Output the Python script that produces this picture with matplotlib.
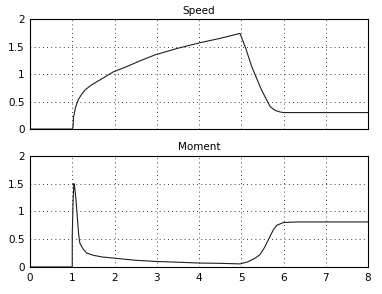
import numpy as np
import matplotlib
matplotlib.use("Agg")
import matplotlib.pyplot as plt

# values
speed_t = [0.0, 1.0, 1.02, 1.03, 1.08, 1.14, 1.22, 1.30, 1.45, 1.58, 1.80, 1.97,
           2.30, 2.60, 2.96, 3.50, 4.02, 4.50, 4.97, 5.10, 5.25, 5.48, 5.60,
           5.68, 5.80, 5.92, 6.00, 8.0]
speed_v = [0.0, 0.0, 0.05, 0.22, 0.40, 0.53, 0.63, 0.71, 0.80, 0.86, 0.96, 1.04,
           1.14, 1.24, 1.35, 1.47, 1.57, 1.65, 1.74, 1.48, 1.13, 0.71, 0.53,
           0.41, 0.34, 0.31, 0.30, 0.30]

moment_t = [0.0, 1.0, 1.0, 1.02, 1.04, 1.06, 1.09, 1.12, 1.15, 1.18, 1.25, 1.34,
            1.50, 1.70, 1.97, 2.50, 2.96, 3.50, 4.02, 4.50, 4.97, 5.15, 5.33,
            5.44, 5.55, 5.68, 5.76, 5.84, 6.00, 6.35, 8.0]
moment_v = [0.0, 0.0, 0.55, 1.20, 1.50, 1.42, 1.20, 0.90, 0.60, 0.43, 0.33, 0.25,
            0.21, 0.18, 0.16, 0.12, 0.10, 0.085, 0.07, 0.065, 0.055, 0.09, 0.16,
            0.22, 0.35, 0.55, 0.67, 0.75, 0.80, 0.81, 0.81]

panels = [("Speed", speed_t, speed_v), ("Moment", moment_t, moment_v)]
x_ticks = [0, 1, 2, 3, 4, 5, 6, 7, 8]
y_ticks = [0, 0.5, 1, 1.5, 2]
y_labels = ["0", "0.5", "1", "1.5", "2"]

fig = plt.figure(figsize=(3.82, 2.94), dpi=100)
positions = [[0.0785, 0.561, 0.885, 0.374], [0.0785, 0.092, 0.885, 0.378]]

for i, (title, t, v) in enumerate(panels):
    ax = fig.add_axes(positions[i])
    ax.plot(t, v, color="#202020", linewidth=0.8)
    ax.set_xlim(0, 8)
    ax.set_ylim(0, 2)
    ax.set_xticks(x_ticks)
    ax.set_yticks(y_ticks)
    ax.set_yticklabels(y_labels)
    if i == 0:
        ax.set_xticklabels([])
    ax.set_title(title, fontsize=7.5, pad=4)
    ax.grid(True, color="black", linestyle=(0, (1, 4)), linewidth=0.6)
    ax.tick_params(direction="in", length=0, labelsize=7.5, pad=4)
    for s in ax.spines.values():
        s.set_linewidth(0.8)

fig.savefig("out.png", dpi=100)
